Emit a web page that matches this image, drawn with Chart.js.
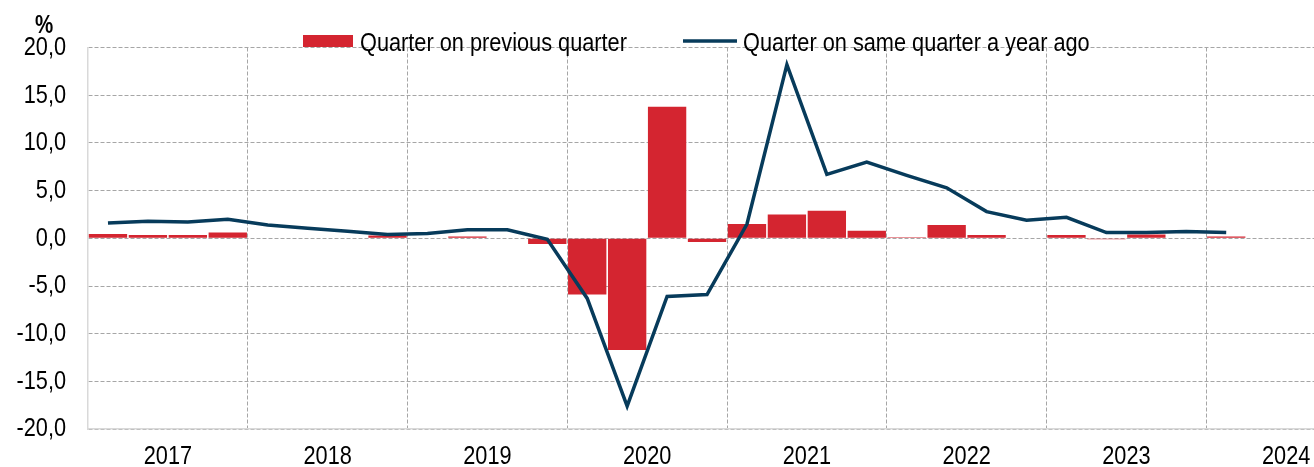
<!DOCTYPE html>
<html>
<head>
<meta charset="utf-8">
<script src="https://cdn.jsdelivr.net/npm/chart.js@4/dist/chart.umd.min.js"></script>
<style>
  html, body { margin: 0; padding: 0; background: #fff; overflow: hidden; }
  #wrap { position: relative; width: 1370px; height: 467px; }
</style>
</head>
<body>
<div id="wrap"><canvas id="c"></canvas></div>
<script>
// ---- data ----
const years = ['2017', '2018', '2019', '2020', '2021', '2022', '2023', '2024'];
const quarters = ['Q1', 'Q2', 'Q3', 'Q4'];
const qoqLabel = 'Quarter on previous quarter';
const yoyLabel = 'Quarter on same quarter a year ago';
const qoq = [0.45, 0.35, 0.35, 0.6,
             0.0, 0.05, 0.0, 0.3,
             0.0, 0.2, 0.0, -0.6,
             -5.9, -11.7, 13.8, -0.4,
             1.5, 2.5, 2.9, 0.8,
             0.1, 1.4, 0.35, 0.0,
             0.35, -0.1, 0.4, 0.0,
             0.2];
const yoy = [1.6, 1.8, 1.7, 2.0,
             1.4, 1.05, 0.75, 0.4,
             0.5, 0.9, 0.9, -0.1,
             -6.3, -17.6, -6.1, -5.9,
             1.5, 18.2, 6.7, 8.0,
             6.6, 5.3, 2.8, 1.9,
             2.2, 0.6, 0.6, 0.7,
             0.6];
const yMin = -20, yMax = 20, yStep = 5;

const labels = [];
years.forEach(y => quarters.forEach(q => labels.push(y + ' ' + q)));

const FONT = "'Liberation Sans', Arial, sans-serif";
const FS = 26.5;      // font size (rendered with a narrow horizontal scale)
const SX = 0.82;      // narrow-font emulation
const RED = '#d42530';
const NAVY = '#073b5b';

const canvas = document.getElementById('c');
const c2d = canvas.getContext('2d');
const origFill = c2d.fillText.bind(c2d);
c2d.fillText = function (t, x, y, mw) {
  this.save();
  this.translate(x, y);
  this.scale(SX, 1);
  origFill(t, 0, 0);
  this.restore();
};

const overlay = {
  id: 'overlay',
  afterDraw(chart) {
    const ctx = chart.ctx;
    ctx.save();
    // unit label
    ctx.fillStyle = '#000';
    ctx.font = "bold 25px " + FONT;
    ctx.textAlign = 'center';
    ctx.textBaseline = 'alphabetic';
    ctx.fillText('%', 44, 33);
    // legend
    ctx.fillStyle = RED;
    ctx.fillRect(303, 35, 50, 12);
    ctx.fillStyle = '#000';
    ctx.font = FS + "px " + FONT;
    ctx.textAlign = 'left';
    ctx.fillText(qoqLabel, 360, 50.5);
    ctx.strokeStyle = NAVY;
    ctx.lineWidth = 3.5;
    ctx.beginPath();
    ctx.moveTo(683, 41);
    ctx.lineTo(737, 41);
    ctx.stroke();
    ctx.fillText(yoyLabel, 743, 50.5);
    ctx.restore();
  }
};

new Chart(canvas, {
  type: 'bar',
  data: {
    labels: labels,
    datasets: [
      {
        type: 'line',
        label: yoyLabel,
        data: yoy,
        borderColor: NAVY,
        backgroundColor: NAVY,
        borderWidth: 3.5,
        pointRadius: 0,
        tension: 0,
        order: 0
      },
      {
        type: 'bar',
        label: qoqLabel,
        data: qoq,
        backgroundColor: RED,
        borderWidth: 0,
        categoryPercentage: 1.0,
        barPercentage: 0.96,
        order: 1
      }
    ]
  },
  options: {
    responsive: true,
    maintainAspectRatio: false,
    animation: false,
    layout: { padding: { top: 47.5, left: 0, right: 4, bottom: 0 } },
    plugins: {
      legend: { display: false },
      tooltip: { enabled: false }
    },
    scales: {
      x: {
        type: 'category',
        offset: true,
        grid: {
          offset: true,
          drawTicks: false,
          lineWidth: 1,
          color: (c) => (c.index % 4 === 0 && c.index > 0) ? '#a6a6a6' : 'rgba(0,0,0,0)'
        },
        border: { display: true, color: '#d9d9d9', width: 1.5, dash: [4, 2] },
        ticks: {
          autoSkip: false,
          maxRotation: 0,
          minRotation: 0,
          padding: 12,
          labelOffset: 20,
          color: '#000',
          font: { family: FONT, size: FS },
          callback: function (v, i) { return i % 4 === 1 ? years[Math.floor(i / 4)] : ''; }
        },
        afterFit: (s) => { s.height = 35.5; }
      },
      y: {
        type: 'linear',
        min: yMin,
        max: yMax,
        grid: {
          drawTicks: false,
          lineWidth: 1,
          color: '#a6a6a6'
        },
        border: { display: true, color: '#d9d9d9', width: 1.5, dash: [4, 2] },
        ticks: {
          stepSize: yStep,
          padding: 22,
          color: '#000',
          font: { family: FONT, size: FS },
          callback: (v) => Number(v).toFixed(1).replace('.', ',')
        },
        afterFit: (s) => { s.width = 88; }
      }
    }
  },
  plugins: [overlay]
});
</script>
</body>
</html>
